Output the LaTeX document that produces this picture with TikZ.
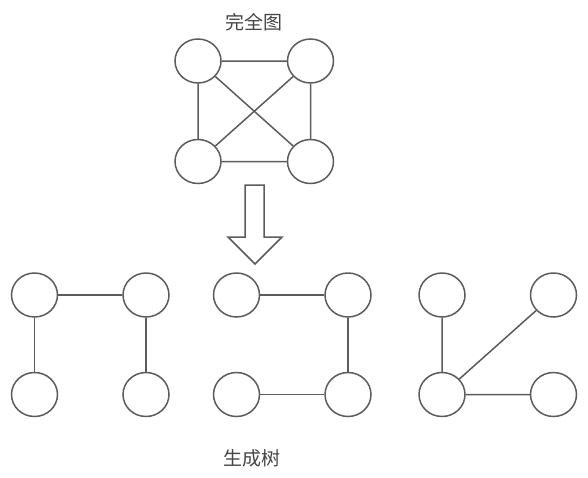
\documentclass[tikz,border=0pt]{standalone}
\usepackage{fontspec}
\newfontfamily\cjk{Noto Sans CJK SC}
\usetikzlibrary{positioning,shapes.geometric}
\definecolor{edgegray}{HTML}{5C5C5C}
\definecolor{textgray}{HTML}{444444}

\begin{document}
\begin{tikzpicture}[line width=1.5pt,
  vert/.style={draw=edgegray,ellipse,minimum width=46pt,minimum height=44pt,inner sep=0pt,fill=white},
  edge/.style={draw=edgegray},
  label/.style={font=\cjk\fontsize{19pt}{22pt}\selectfont,text=textgray},
  node distance=54pt and 64pt]
\useasboundingbox (0,0) rectangle (588pt,-477pt);
% complete graph
\node[label] (title) at (254pt,-22pt) {完全图};
\node[vert] (k1) at (198pt,-61pt) {};
\node[vert,right=65pt of k1] (k2) {};
\node[vert,below=55pt of k1] (k3) {};
\node[vert,below=55pt of k2] (k4) {};
\draw[edge] (k1)--(k2) (k3)--(k4) (k1)--(k3) (k2)--(k4) (k1)--(k4) (k2)--(k3);
% arrow
\coordinate (arr) at (245pt,-185pt);
\draw[edge,line join=miter] (arr) -- ++(19pt,0) -- ++(0,-52pt) -- ++(18pt,0) -- ++(-27pt,-27pt)
  -- ++(-27pt,27pt) -- ++(17pt,0) -- cycle;
% spanning tree 1
\node[vert] (a1) at (34.5pt,-295pt) {};
\node[vert,right=of a1] (a2) {};
\node[vert,below=of a1] (a3) {};
\node[vert,below=of a2] (a4) {};
\draw[edge] (a1)--(a2) (a1)--(a3) (a2)--(a4);
% spanning tree 2
\node[vert] (b1) at (236.5pt,-295pt) {};
\node[vert,right=of b1] (b2) {};
\node[vert,below=of b1] (b3) {};
\node[vert,below=of b2] (b4) {};
\draw[edge] (b1)--(b2) (b2)--(b4) (b3)--(b4);
% spanning tree 3
\node[vert] (c1) at (442pt,-295pt) {};
\node[vert,right=of c1] (c2) {};
\node[vert,below=of c1] (c3) {};
\node[vert,below=of c2] (c4) {};
\draw[edge] (c1)--(c3) (c3)--(c2) (c3)--(c4);
\node[label] (caption) at (251.5pt,-458pt) {生成树};
\end{tikzpicture}
\end{document}
